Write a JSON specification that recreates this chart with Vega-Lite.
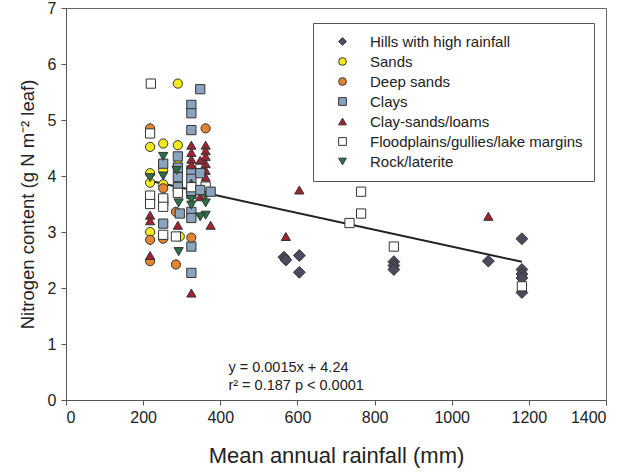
{
  "$schema": "https://vega.github.io/schema/vega-lite/v6.json",
  "width": 540,
  "height": 392,
  "autosize": {"type": "none"},
  "padding": {"left": 66, "top": 8, "right": 25, "bottom": 72},
  "background": "white",
  "config": {
    "font": "Liberation Sans",
    "view": {"stroke": "#666", "strokeWidth": 1},
    "axis": {"domainColor": "#555", "tickColor": "#555", "tickSize": 5, "labelFontSize": 16, "labelColor": "#222", "titleFontWeight": "normal", "titleColor": "#222", "grid": false, "labelFont": "Liberation Sans", "titleFont": "Liberation Sans"},
    "legend": {"labelFont": "Liberation Sans"}
  },
  "datasets": {
    "pts": [
      {"g": "Hills with high rainfall", "x": 565, "y": 2.55},
      {"g": "Hills with high rainfall", "x": 570, "y": 2.5},
      {"g": "Hills with high rainfall", "x": 605, "y": 2.58},
      {"g": "Hills with high rainfall", "x": 605, "y": 2.28},
      {"g": "Hills with high rainfall", "x": 850, "y": 2.47},
      {"g": "Hills with high rainfall", "x": 850, "y": 2.4},
      {"g": "Hills with high rainfall", "x": 850, "y": 2.33},
      {"g": "Hills with high rainfall", "x": 1095, "y": 2.48},
      {"g": "Hills with high rainfall", "x": 1182, "y": 2.88},
      {"g": "Hills with high rainfall", "x": 1182, "y": 2.33},
      {"g": "Hills with high rainfall", "x": 1182, "y": 2.25},
      {"g": "Hills with high rainfall", "x": 1182, "y": 2.18},
      {"g": "Hills with high rainfall", "x": 1182, "y": 1.92},
      {"g": "Floodplains/gullies/lake margins", "x": 735, "y": 3.16},
      {"g": "Floodplains/gullies/lake margins", "x": 765, "y": 3.72},
      {"g": "Floodplains/gullies/lake margins", "x": 765, "y": 3.33},
      {"g": "Floodplains/gullies/lake margins", "x": 850, "y": 2.74},
      {"g": "Floodplains/gullies/lake margins", "x": 1182, "y": 2.03},
      {"g": "Clay-sands/loams", "x": 570, "y": 2.92},
      {"g": "Clay-sands/loams", "x": 605, "y": 3.75},
      {"g": "Clay-sands/loams", "x": 1095, "y": 3.28},

      {"g": "Deep sands", "x": 218, "y": 4.85},
      {"g": "Floodplains/gullies/lake margins", "x": 220, "y": 5.65},
      {"g": "Floodplains/gullies/lake margins", "x": 218, "y": 4.76},
      {"g": "Floodplains/gullies/lake margins", "x": 218, "y": 3.65},
      {"g": "Floodplains/gullies/lake margins", "x": 218, "y": 3.5},
      {"g": "Sands", "x": 218, "y": 4.52},
      {"g": "Sands", "x": 218, "y": 4.05},
      {"g": "Sands", "x": 218, "y": 3.88},
      {"g": "Sands", "x": 218, "y": 3.0},
      {"g": "Deep sands", "x": 218, "y": 2.86},
      {"g": "Deep sands", "x": 218, "y": 2.48},
      {"g": "Clay-sands/loams", "x": 218, "y": 3.3},
      {"g": "Clay-sands/loams", "x": 218, "y": 3.2},
      {"g": "Clay-sands/loams", "x": 218, "y": 2.58},
      {"g": "Rock/laterite", "x": 218, "y": 3.97},

      {"g": "Sands", "x": 252, "y": 4.58},
      {"g": "Sands", "x": 252, "y": 4.1},
      {"g": "Sands", "x": 252, "y": 3.85},
      {"g": "Clays", "x": 252, "y": 4.22},
      {"g": "Clays", "x": 252, "y": 3.55},
      {"g": "Clays", "x": 252, "y": 3.15},
      {"g": "Rock/laterite", "x": 252, "y": 4.35},
      {"g": "Rock/laterite", "x": 252, "y": 4.0},
      {"g": "Deep sands", "x": 252, "y": 3.78},
      {"g": "Deep sands", "x": 252, "y": 2.88},
      {"g": "Floodplains/gullies/lake margins", "x": 252, "y": 3.6},
      {"g": "Floodplains/gullies/lake margins", "x": 252, "y": 3.45},
      {"g": "Floodplains/gullies/lake margins", "x": 252, "y": 2.95},

      {"g": "Sands", "x": 290, "y": 5.65},
      {"g": "Sands", "x": 290, "y": 4.55},
      {"g": "Sands", "x": 290, "y": 4.2},
      {"g": "Sands", "x": 295, "y": 2.92},
      {"g": "Deep sands", "x": 285, "y": 3.36},
      {"g": "Deep sands", "x": 285, "y": 2.42},
      {"g": "Clays", "x": 290, "y": 4.35},
      {"g": "Clays", "x": 290, "y": 4.15},
      {"g": "Clays", "x": 290, "y": 3.98},
      {"g": "Clays", "x": 290, "y": 3.8},
      {"g": "Clays", "x": 295, "y": 3.33},
      {"g": "Rock/laterite", "x": 287, "y": 4.1},
      {"g": "Rock/laterite", "x": 292, "y": 3.52},
      {"g": "Rock/laterite", "x": 292, "y": 2.65},
      {"g": "Floodplains/gullies/lake margins", "x": 285, "y": 2.92},
      {"g": "Floodplains/gullies/lake margins", "x": 290, "y": 3.7},
      {"g": "Clay-sands/loams", "x": 290, "y": 3.12},

      {"g": "Clays", "x": 325, "y": 5.27},
      {"g": "Clays", "x": 325, "y": 5.12},
      {"g": "Clays", "x": 325, "y": 4.82},
      {"g": "Clays", "x": 325, "y": 4.1},
      {"g": "Clays", "x": 325, "y": 3.95},
      {"g": "Clays", "x": 325, "y": 3.75},
      {"g": "Clays", "x": 325, "y": 3.68},
      {"g": "Clays", "x": 325, "y": 3.36},
      {"g": "Clays", "x": 325, "y": 3.25},
      {"g": "Clays", "x": 325, "y": 2.74},
      {"g": "Clays", "x": 325, "y": 2.27},
      {"g": "Clay-sands/loams", "x": 325, "y": 4.55},
      {"g": "Clay-sands/loams", "x": 325, "y": 4.42},
      {"g": "Clay-sands/loams", "x": 325, "y": 4.3},
      {"g": "Clay-sands/loams", "x": 325, "y": 4.2},
      {"g": "Clay-sands/loams", "x": 325, "y": 3.87},
      {"g": "Clay-sands/loams", "x": 325, "y": 1.91},
      {"g": "Rock/laterite", "x": 325, "y": 3.58},
      {"g": "Rock/laterite", "x": 325, "y": 3.48},
      {"g": "Deep sands", "x": 325, "y": 2.9},
      {"g": "Floodplains/gullies/lake margins", "x": 325, "y": 3.8},

      {"g": "Deep sands", "x": 362, "y": 4.85},
      {"g": "Clay-sands/loams", "x": 362, "y": 4.55},
      {"g": "Clay-sands/loams", "x": 362, "y": 4.45},
      {"g": "Clay-sands/loams", "x": 362, "y": 4.35},
      {"g": "Clay-sands/loams", "x": 362, "y": 4.22},
      {"g": "Clay-sands/loams", "x": 362, "y": 4.1},
      {"g": "Clay-sands/loams", "x": 362, "y": 3.98},
      {"g": "Clay-sands/loams", "x": 348, "y": 4.28},
      {"g": "Clay-sands/loams", "x": 348, "y": 3.63},
      {"g": "Clay-sands/loams", "x": 375, "y": 3.12},
      {"g": "Floodplains/gullies/lake margins", "x": 362, "y": 3.81},
      {"g": "Rock/laterite", "x": 362, "y": 3.65},
      {"g": "Rock/laterite", "x": 362, "y": 3.52},
      {"g": "Rock/laterite", "x": 362, "y": 3.3},
      {"g": "Rock/laterite", "x": 348, "y": 3.27},
      {"g": "Clays", "x": 348, "y": 5.55},
      {"g": "Clays", "x": 348, "y": 4.05},
      {"g": "Clays", "x": 348, "y": 3.75},
      {"g": "Clays", "x": 375, "y": 3.72}
    ],
    "fit": [
      {"x": 220, "y": 3.91},
      {"x": 1182, "y": 2.467}
    ],
    "notes": [
      {"x": 421, "y": 0.58, "t": "y = 0.0015x + 4.24"},
      {"x": 421, "y": 0.25, "t": "r² = 0.187 p < 0.0001"}
    ]
  },
  "encoding": {
    "x": {
      "field": "x", "type": "quantitative",
      "scale": {"domain": [0, 1400], "nice": false},
      "axis": {"values": [0, 200, 400, 600, 800, 1000, 1200, 1400], "format": "d", "title": "Mean annual rainfall (mm)", "titleFontSize": 22, "titlePadding": 20, "labelPadding": 4}
    },
    "y": {
      "field": "y", "type": "quantitative",
      "scale": {"domain": [0, 7], "nice": false},
      "axis": {"values": [0, 1, 2, 3, 4, 5, 6, 7], "format": "d", "title": "Nitrogen content (g N m⁻² leaf)", "titleFontSize": 18.5, "titlePadding": 10, "labelPadding": 5}
    }
  },
  "layer": [
    {
      "data": {"name": "pts"},
      "transform": [{"filter": "datum.g === 'Hills with high rainfall'"}],
      "mark": {"type": "point", "filled": true, "size": 140, "stroke": "#333", "strokeWidth": 1, "opacity": 1},
      "encoding": {
        "color": {
          "field": "g", "type": "nominal",
          "scale": {
            "domain": ["Hills with high rainfall", "Sands", "Deep sands", "Clays", "Clay-sands/loams", "Floodplains/gullies/lake margins", "Rock/laterite"],
            "range": ["#4b4b5e", "#f2ea1a", "#e3852f", "#8aa4bd", "#a3222f", "#ffffff", "#2c7045"]
          },
          "legend": {
            "title": null, "orient": "none", "legendX": 247, "legendY": 15,
            "padding": 11, "strokeColor": "#555", "fillColor": "white",
            "labelFontSize": 15, "labelColor": "#222", "symbolSize": 60,
            "symbolStrokeColor": "#333", "symbolStrokeWidth": 1,
            "symbolOffset": 11, "labelOffset": 20, "rowPadding": 4, "labelLimit": 400
          }
        },
        "shape": {
          "field": "g", "type": "nominal",
          "scale": {
            "domain": ["Hills with high rainfall", "Sands", "Deep sands", "Clays", "Clay-sands/loams", "Floodplains/gullies/lake margins", "Rock/laterite"],
            "range": ["diamond", "circle", "circle", "square", "triangle-up", "square", "triangle-down"]
          }
        }
      }
    },
    {
      "data": {"name": "fit"},
      "mark": {"type": "line", "color": "#222", "strokeWidth": 2},
      "encoding": {}
    },
    {
      "data": {"name": "pts"},
      "transform": [{"filter": "datum.g !== 'Hills with high rainfall'"}],
      "mark": {"type": "point", "filled": true, "size": 85, "stroke": "#333", "strokeWidth": 1, "opacity": 1},
      "encoding": {
        "color": {"field": "g", "type": "nominal"},
        "shape": {"field": "g", "type": "nominal"}
      }
    },
    {
      "data": {"name": "notes"},
      "mark": {"type": "text", "align": "left", "baseline": "middle", "fontSize": 14.5, "color": "#222"},
      "encoding": {
        "text": {"field": "t"}
      }
    }
  ]
}
